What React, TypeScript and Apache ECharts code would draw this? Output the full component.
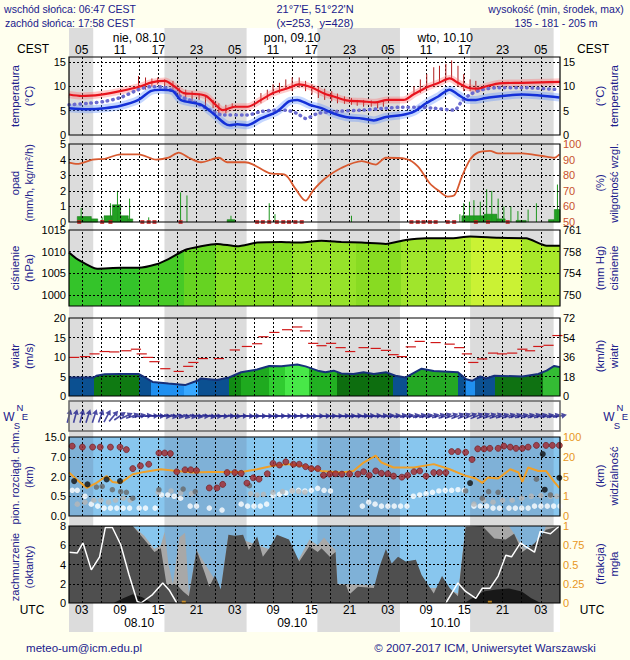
import React, { useEffect, useRef } from "react";
import * as echarts from "echarts";

type P = [number, number];

const FONT = '"Liberation Sans", Arial, Helvetica, sans-serif';
const BG = "#FFFFEE";
const NAVY = "#20208C";
const SKY = "#88C6EE";

// time axis: hours since 08.10 00:00 UTC
const T_MIN = 1;
const T_MAX = 78;
const NIGHTS: P[] = [[1, 4.8], [15.97, 28.85], [39.95, 52.9], [63.9, 77.0]];
const GRID_HOURS = [3, 6, 9, 12, 15, 18, 21, 24, 27, 30, 33, 36, 39, 42, 45, 48, 51, 54, 57, 60, 63, 66, 69, 72, 75];
const LABEL_HOURS = [3, 9, 15, 21, 27, 33, 39, 45, 51, 57, 63, 69, 75];
const DAY_HOURS = [12, 36, 60];
const DAY_NAMES = ["nie, 08.10", "pon, 09.10", "wto, 10.10"];
const DATE_LABELS = ["08.10", "09.10", "10.10"];

// temperature (°C)
const TEMP: P[] = [[1, 8.3], [3, 8.0], [6, 8.3], [9, 9.0], [12, 9.9], [14, 10.8], [16, 11.1], [17.5, 10.0], [19, 8.6], [21, 8.4], [22.5, 8.0], [24, 6.2], [25.1, 5.1], [27, 5.8], [29, 5.8], [31, 7.1], [33, 8.6], [35.5, 9.7], [37, 10.4], [39, 9.8], [41, 8.5], [42.5, 7.9], [44.5, 7.1], [47, 6.9], [49, 6.7], [51, 7.2], [53.5, 7.2], [55, 8.3], [57, 9.7], [59, 10.7], [60.7, 11.6], [62, 10.7], [63.6, 9.7], [65, 9.5], [66.5, 10.0], [68.5, 10.6], [72, 10.7], [75, 10.8], [78, 10.9]];
const DEWPOINT: P[] = [[1, 5.5], [4, 5.3], [6.6, 5.5], [9.1, 6.0], [11.9, 7.2], [13.8, 9.0], [15.4, 9.3], [17.3, 9.0], [18.5, 7.2], [21.7, 6.2], [23.6, 4.4], [25.5, 2.3], [26.2, 2.0], [27.4, 2.2], [28.9, 2.0], [31.1, 3.4], [33.6, 4.8], [35.5, 6.9], [36.8, 7.2], [38.7, 6.2], [40.6, 5.5], [42.5, 4.4], [44.4, 3.7], [46.9, 3.4], [48.8, 3.0], [50.7, 3.7], [53.2, 4.1], [55.1, 4.8], [57.0, 6.5], [58.9, 7.9], [60.7, 9.3], [62.0, 8.3], [63.6, 7.2], [64.8, 7.2], [66.4, 7.6], [72.1, 8.3], [77.9, 7.7]];
const GROUND_TEMP: P[] = [[1, 6.2], [4, 6.5], [6.6, 6.9], [9.1, 7.7], [11.9, 9.3], [13.8, 9.9], [15.4, 9.9], [17.3, 9.0], [18.5, 7.9], [20.4, 6.9], [23.6, 4.8], [25.1, 4.1], [28.9, 4.1], [31.1, 4.8], [33.6, 5.1], [34.9, 5.1], [36.8, 4.4], [38.1, 3.4], [40, 4.4], [42.5, 4.8], [46.9, 5.1], [50.7, 5.5], [53.2, 5.7], [55.7, 5.7], [58.2, 5.5], [61.4, 5.1], [62.6, 6.9], [63.9, 8.3], [65.8, 9.3], [68.3, 9.7], [72.1, 9.7], [77.9, 9.3]];
const TEMP_RANGE: [number, number, number][] = [[11.9, 9.7, 12.1], [13.0, 9.3, 11.8], [14.0, 9.9, 11.6], [14.9, 10.4, 11.8], [16.0, 9.7, 11.4], [17.3, 9.0, 11.1], [18.3, 7.2, 9.7], [19.3, 7.2, 9.3], [20.3, 6.9, 9.0], [21.4, 7.2, 8.6], [22.4, 5.8, 7.9], [23.6, 5.5, 7.2], [24.5, 4.1, 6.5], [25.6, 4.4, 6.2], [26.6, 5.5, 6.5], [31.1, 6.5, 8.6], [32.1, 7.2, 9.3], [33.0, 8.3, 10.4], [34.0, 8.6, 10.7], [35.0, 9.3, 11.4], [36.0, 9.0, 11.8], [37.1, 9.7, 11.8], [38.1, 9.0, 11.1], [39.1, 8.3, 10.4], [40.1, 7.6, 9.9], [41.1, 7.2, 9.5], [42.2, 6.9, 9.0], [43.1, 6.5, 8.5], [44.2, 6.4, 7.9], [45.3, 6.2, 7.6], [46.2, 6.0, 7.2], [47.2, 5.8, 7.2], [48.4, 5.8, 7.1], [49.4, 5.5, 6.9], [50.3, 5.8, 7.2], [55.1, 8.3, 10.0], [56.1, 8.6, 11.4], [57.1, 9.7, 12.5], [58.2, 10.4, 13.9], [59.1, 10.7, 14.2], [60.1, 11.1, 14.6], [61.0, 11.4, 15.3], [62.0, 10.0, 14.2], [62.9, 9.0, 12.5], [63.9, 9.0, 11.4], [64.8, 9.0, 11.1]];

// precipitation (mm/h) and relative humidity (%)
const PRECIP_BARS: [number, number, number][] = [[2.3, 4.5, 0.35], [4.5, 5.5, 0.2], [6.5, 7.8, 0.4], [7.8, 9.1, 1.1], [9.1, 10.3, 0.4], [10.3, 11, 0.2], [25.8, 27, 0.15], [62.6, 66.1, 0.4], [66.1, 68.1, 0.5], [68.1, 69.4, 0.2], [71.1, 72.7, 0.1], [76.2, 77.1, 0.15], [77.1, 78, 0.8]];
const PRECIP_MAX: P[] = [[2.9, 0.9], [6.2, 0.3], [7.5, 1.2], [8.6, 2.0], [10.5, 1.5], [13.5, 0.3], [18.5, 1.9], [19.5, 1.7], [26.4, 0.4], [32.4, 1.2], [33.3, 0.5], [45.3, 0.4], [62.3, 0.5], [62.9, 1.2], [63.8, 1.3], [64.5, 1.4], [65.5, 1.3], [66.5, 2.1], [67.3, 2.0], [68.3, 1.5], [69.2, 1.0], [70.3, 1.0], [71.4, 0.7], [73.0, 0.8], [74.3, 1.2], [77.6, 2.4]];
const SNOW_MARKS = [2.6, 6.2, 7.5, 12.5, 13.5, 14.4, 18.5, 30.5, 31.4, 32.4, 33.6, 34.6, 35.5, 36.5, 37.5, 54.7, 55.7, 56.6, 57.6, 58.5, 60.4, 61.4, 64.8, 66.7, 69.8];
const HUMIDITY: P[] = [[1, 88], [2.3, 87.2], [4.7, 90], [6.6, 90.5], [9.1, 93.4], [11.9, 93.4], [14.7, 90], [16.6, 91.2], [18.2, 94.5], [19.8, 91.2], [21.7, 88.3], [24.5, 91.2], [25.8, 88.3], [28.6, 88.3], [29.9, 86.8], [32.4, 81.3], [34.9, 80.2], [36.5, 71.4], [38.1, 63.7], [39.3, 70.3], [41.2, 78], [43.7, 84.6], [46.9, 89], [49.1, 86.8], [50.7, 91.2], [53.8, 90.5], [55.7, 85.7], [57.6, 74.7], [58.9, 70.3], [60.4, 66.3], [61.4, 67], [62.6, 79], [63.9, 90], [65.1, 94.5], [67, 95.6], [68.3, 94], [72.1, 94], [75.2, 92.3], [77.1, 91.2], [77.9, 93.4]];

// pressure (hPa)
const PRESSURE: P[] = [[1, 1009.8], [2.3, 1008.3], [5.4, 1006.1], [9.1, 1006.3], [11.9, 1006.3], [14.7, 1007.1], [16.6, 1008.3], [19.2, 1010.4], [21.7, 1011.25], [24.2, 1011.8], [27.4, 1011.25], [30.5, 1012.1], [34.3, 1012.25], [36.8, 1012.1], [40.6, 1012.5], [43.7, 1012.25], [46.9, 1012.1], [50.7, 1011.8], [53.8, 1012.7], [57, 1013.1], [60.7, 1013.1], [63.9, 1013.5], [68.3, 1013.2], [72.7, 1013.1], [75.9, 1011.4], [78, 1011.4]];
const PRESSURE_COLORS: [number, number, string][] = [[1, 12, "#34C42A"], [12, 19, "#46CA26"], [19, 24, "#66D322"], [24, 36, "#84DC22"], [36, 46, "#96E22A"], [46, 53, "#88DB22"], [53, 60, "#A0E52C"], [60, 64, "#B2EC30"], [64, 72, "#CAF234"], [72, 78, "#A8E82A"]];

// wind (m/s)
const WIND: P[] = [[1, 4.75], [2.3, 4.75], [4.9, 4.75], [5.3, 5.2], [6.6, 5.6], [9.1, 5.65], [11.9, 5.65], [12.9, 4.75], [14.1, 3.6], [16.6, 3.2], [19.2, 2.8], [21.1, 3.9], [21.7, 4.5], [24.2, 4.1], [26.1, 4.75], [28, 6.1], [30.5, 6.8], [32.4, 7.7], [34.3, 7.6], [36.8, 8.1], [38.1, 7.6], [40, 6.5], [41.2, 6.1], [42.5, 6.5], [43.7, 5.8], [45.6, 5.65], [47.2, 6.1], [48.8, 5.65], [50.7, 6.1], [52.2, 5.2], [53.8, 4.75], [56.3, 7.0], [58.2, 6.4], [62, 6.1], [63.3, 4.3], [64.2, 3.9], [65.5, 5.0], [66.4, 4.5], [67.7, 5.2], [72.1, 5.0], [74.6, 5.65], [75.9, 6.5], [77.1, 7.7], [78, 7.4]];
const GUSTS: P[] = [[1.8, 9.9], [3.5, 10.1], [5.0, 10.8], [6.6, 11.4], [8.1, 11.3], [10.0, 11.6], [11.5, 12.0], [12.4, 10.8], [13.4, 9.9], [14.4, 8.8], [16.1, 7.0], [18.2, 6.3], [19.7, 7.6], [20.5, 8.6], [22.0, 9.6], [24.5, 9.6], [27.0, 11.8], [28.9, 12.7], [30.5, 13.4], [31.5, 15.2], [33.2, 16.3], [35.2, 17.0], [36.8, 17.7], [38.0, 16.7], [39.3, 13.5], [40.6, 12.9], [42.1, 13.5], [43.6, 12.4], [45.1, 11.4], [47.2, 12.4], [49.1, 12.2], [50.7, 11.7], [51.9, 10.6], [53.2, 10.1], [54.6, 12.6], [56.0, 14.0], [58.5, 13.7], [60.7, 13.3], [62.2, 12.4], [63.4, 10.8], [64.4, 8.6], [65.8, 9.5], [67.5, 11.0], [68.9, 10.8], [70.5, 11.0], [72.1, 12.0], [73.3, 11.6], [74.6, 12.7], [76.2, 13.0], [77.6, 15.5]];
const WIND_COLORS: [number, number, string][] = [[1, 4.86, "#0B5091"], [4.86, 11.9, "#0F7A12"], [11.9, 13.8, "#0B5091"], [13.8, 19.0, "#2090F0"], [19.0, 21.2, "#38A8FF"], [21.2, 26.1, "#0B5091"], [26.1, 28, "#128C14"], [28, 32.4, "#1FAA1F"], [32.4, 34.9, "#30CC30"], [34.9, 38.6, "#48E848"], [38.6, 43, "#22B022"], [43, 51.8, "#0D6E0F"], [51.8, 54, "#0B5091"], [54, 62, "#24A824"], [62, 63.3, "#0B5091"], [63.3, 64.6, "#2090F0"], [64.6, 67.8, "#0B5091"], [67.8, 75.3, "#0F7212"], [75.3, 78, "#34BC34"]];
// wind direction arrows, hourly from t=1 (degrees clockwise from "pointing up")
const WIND_DIR = [15, 15, 15, 18, 18, 20, 28, 40, 55, 65, 72, 78, 82, 88, 92, 95, 100, 100, 105, 100, 100, 95, 100, 95, 95, 92, 95, 90, 92, 90, 90, 90, 88, 88, 90, 90, 90, 92, 92, 90, 88, 88, 88, 86, 86, 85, 85, 85, 84, 84, 82, 82, 80, 80, 80, 78, 78, 75, 75, 72, 72, 70, 70, 68, 68, 70, 72, 72, 74, 74, 75, 75, 76, 76, 76, 78, 78, 80];

// cloud layers (km) and visibility (km)
const CLOUD_H_TICKS = [0, 0.5, 2, 7, 15];
const CLOUD_H_LABELS = ["0.0", "0.5", "2.0", "7.0", "15.0"];
const VIS_TICKS = [0, 1, 5, 20, 100];
const HIGH_CLOUD: P[] = [[1.5, 11.3], [3.1, 10.9], [4.7, 10.9], [5.9, 10.9], [7.5, 10.9], [9.0, 10.9], [10.0, 9.9], [11.0, 4.0], [12.2, 4.7], [13.5, 5.1], [15.1, 8.5], [16.0, 8.5], [16.9, 8.3], [17.9, 3.2], [19.2, 3.7], [20.1, 3.7], [21.0, 3.5], [23.0, 1.13], [24.2, 1.13], [25.1, 1.4], [25.8, 3.0], [27.0, 3.0], [28.0, 2.8], [28.9, 1.5], [29.9, 1.9], [30.8, 1.8], [32.1, 2.7], [33.0, 5.3], [34.0, 4.9], [35.0, 5.7], [36.2, 5.1], [37.1, 5.1], [38.1, 4.5], [39.0, 4.0], [40.0, 4.0], [40.9, 2.3], [41.9, 2.6], [42.8, 2.7], [43.8, 2.6], [45.0, 2.6], [46.3, 2.6], [47.2, 3.2], [48.1, 2.3], [49.1, 3.4], [50.0, 2.8], [51.0, 2.7], [51.9, 2.1], [53.2, 1.95], [54.1, 2.3], [55.1, 3.2], [56.0, 3.4], [57.0, 2.1], [58.2, 3.0], [59.1, 3.0], [60.1, 3.0], [61.0, 9.1], [62.0, 9.1], [63.2, 8.8], [64.2, 6.3], [65.1, 10.2], [66.1, 10.2], [67.0, 10.4], [68.3, 10.4], [69.2, 11.3], [70.2, 10.9], [71.1, 10.4], [72.1, 10.4], [73.0, 10.9], [74.3, 11.6], [75.8, 11.6], [76.8, 11.6], [77.9, 11.6]];
const BLACK_CLOUD: P[] = [[1.8, 1.65], [3.9, 1.4], [6.9, 1.78], [9.0, 1.65], [63.9, 1.5], [75.3, 8.1], [75.6, 1.0], [77.9, 1.9]];
const DARK_CLOUD: P[] = [[5.3, 1.2], [6.2, 1.25], [7.8, 1.0], [9.1, 0.85], [10.0, 0.8], [11.0, 0.45], [15.1, 1.0], [18.9, 1.05], [20.8, 0.85], [29.3, 1.3], [63.2, 0.9], [65.8, 0.45], [66.8, 0.85], [68.3, 0.8], [74.3, 1.8], [76.5, 0.6]];
const LIGHT_CLOUD: P[] = [[2.3, 0.3], [3.5, 0.35], [4.9, 0.4], [6.0, 0.4], [7.2, 0.35], [8.3, 0.4], [9.5, 0.45], [10.6, 0.4], [15.0, 0.8], [17.0, 0.9], [18.5, 0.75], [20.2, 0.7], [29.5, 0.7], [30.5, 0.6], [31.5, 0.65], [33.0, 0.8], [34.5, 0.85], [36, 0.9], [37, 0.85], [38, 0.8], [64.5, 0.3], [66, 0.4], [67.5, 0.35], [69, 0.4], [70.5, 0.4], [72, 0.45], [73.5, 0.5], [75, 0.55], [76.5, 0.5], [77.5, 0.5]];
const WHITE_CLOUD: P[] = [[1.5, 0.95], [2.3, 0.95], [3.5, 0.5], [4.5, 0.3], [5.5, 0.25], [6.5, 0.2], [7.5, 0.2], [8.5, 0.2], [9.5, 0.2], [10.5, 0.2], [12, 0.2], [13, 0.2], [14.5, 0.2], [15.5, 0.6], [16.5, 0.6], [17.5, 0.5], [18.5, 0.45], [20, 0.25], [21, 0.25], [23, 0.2], [25, 0.15], [28, 0.3], [29, 0.25], [30, 0.25], [31, 0.25], [32, 0.3], [33, 0.55], [34, 0.65], [35, 0.75], [36, 0.9], [37, 0.95], [38, 0.9], [39, 0.95], [40, 1.1], [41, 0.95], [42, 0.9], [47, 0.25], [48, 0.35], [49, 0.3], [50, 0.25], [51, 0.25], [52, 0.25], [53, 0.25], [54, 0.25], [55, 0.5], [56, 0.6], [57, 0.7], [58, 0.8], [59, 0.9], [60, 0.95], [61, 0.95], [62, 1.0], [63, 0.95], [64.5, 0.25], [65.5, 0.25], [66.5, 0.25], [67.5, 0.2], [68.5, 0.2], [70, 0.2], [71, 0.2], [72, 0.2], [73, 0.2], [74, 0.25], [75, 0.25], [76, 0.25], [77, 0.25], [78, 0.25]];
const VISIBILITY: P[] = [[1, 8], [2.2, 4.4], [3.8, 2.7], [5.3, 3.7], [6.9, 5.4], [7.8, 3.9], [9.1, 3.7], [11, 6.7], [12.8, 8.5], [15.4, 10.5], [17.9, 9.2], [20.4, 8], [23, 8.5], [25.5, 8.5], [28, 8.5], [30.5, 10.5], [33, 13.1], [35.5, 14.4], [38.1, 12.6], [40.6, 9.2], [43.7, 8], [45.6, 9.2], [47.2, 15.6], [49.1, 25], [50, 15.6], [51.9, 11.8], [55.1, 11.8], [58.2, 14.4], [60.7, 10.5], [63.2, 5.5], [64.8, 4.6], [65.8, 3.7], [66.7, 4.8], [68.3, 4.6], [70.2, 10.5], [71.5, 8], [72.1, 3.9], [73, 11.8], [74.6, 9.2], [75.8, 9.2], [77.1, 3.9], [77.9, 2.7]];

// cloud cover (octants) and fog fraction
const CLOUD_TOTAL: P[] = [[1, 8], [11, 8], [12.8, 6.6], [14.4, 5.3], [15.4, 5.7], [16.3, 1.9], [17.9, 1.9], [18.9, 1.2], [19.8, 0.7], [21, 5.5], [22.3, 3.1], [23, 1.7], [23.9, 2.9], [24.8, 1.4], [26, 7.1], [27, 7.0], [28.3, 7.1], [29.2, 5.5], [30.5, 6.9], [31.4, 4.8], [32.4, 5.7], [33.6, 7.1], [35.5, 6.6], [37.1, 4.3], [38.7, 5.9], [40, 5.3], [40.6, 5.7], [41.9, 4.8], [42.8, 5.3], [43.1, 1.9], [44.4, 1.9], [45, 0.9], [46.3, 1.7], [48.8, 1.55], [49.7, 3.8], [50.7, 5.6], [51.6, 4.1], [52.6, 4.8], [53.8, 4.3], [55.4, 4.5], [56.3, 2.9], [58.2, 1.0], [59.5, 2.8], [60.7, 1.55], [62, 0.7], [63.2, 7.9], [65.8, 8], [67.7, 6.7], [69.5, 6.6], [70.8, 7.2], [72.1, 5.3], [74, 6.2], [75.8, 7.6], [78, 8]];
const CLOUD_MID: P[] = [[1, 8], [11, 8], [12.8, 7], [14.4, 5.6], [15.4, 6], [16, 7.4], [16.6, 4], [17.3, 2], [18.3, 6.8], [19.2, 7.3], [19.8, 1], [21, 5.5], [24.8, 1.4], [26, 7.1], [37, 4.5], [38.7, 6.6], [40, 6], [41, 6.8], [42, 6], [42.8, 5.5], [43.1, 2], [60, 1.5], [62, 1], [63.2, 8], [70, 8], [72, 6], [74, 5], [75.8, 8], [78, 8]];
const CLOUD_LOW: P[] = [[8, 0], [9.5, 0.5], [11, 0.9], [12.5, 0.6], [14, 0], [63, 0], [64.5, 0.6], [66, 1.2], [68, 1.4], [70, 1.5], [72, 1.2], [73.5, 0.5], [75, 0]];
const FOG_A: P[] = [[1, 0.66], [2.3, 0.65], [3.2, 0.78], [4.5, 0.43], [5.8, 0.6], [6.7, 0.98], [7.8, 0.98], [9.1, 0.76], [10.4, 0.37], [11.7, 0.02], [12.3, 0], [14.1, 0.11], [15.7, 0.26], [16.7, 0.17], [17.9, 0]];
const FOG_B: P[] = [[60.1, 0], [62, 0.26], [63.2, 0.15], [64.8, 0.06], [65.8, 0.19], [67, 0.19], [68.3, 0.35], [69.5, 0.62], [70.4, 0.6], [71.8, 0.78], [72.7, 0.73], [74, 0.66], [74.9, 0.93], [76.5, 0.9], [77.9, 1.0]];
const FOG_MARKS = [19, 67];

const PANELS = [
  { top: 57, height: 78 },
  { top: 144, height: 78 },
  { top: 230, height: 76 },
  { top: 318, height: 78 },
  { top: 401, height: 30 },
  { top: 437, height: 79 },
  { top: 526, height: 77 },
];

const pad = (n: number) => (n < 10 ? "0" + n : String(n));

function toIdx(v: number, ticks: number[]): number {
  for (let i = 0; i < ticks.length - 1; i++) {
    if (v <= ticks[i + 1]) return i + (v - ticks[i]) / (ticks[i + 1] - ticks[i]);
  }
  return ticks.length - 1;
}

function buildOption(): any {
  const grids: any[] = PANELS.map((p, i) => ({
    left: 69,
    width: 491,
    top: p.top,
    height: p.height,
    show: true,
    backgroundColor: "transparent",
    borderColor: i === 4 ? "#666" : "#000",
    borderWidth: i === 4 ? 1.5 : 1.2,
    z: 10,
  }));
  grids.push({ left: 69, width: 491, top: 28, height: 604, show: true, backgroundColor: "#FFFFFF", borderWidth: 0, z: 0 });

  const label = (extra: any = {}) => ({ fontSize: 11, lineHeight: 10, fontFamily: FONT, color: "#000", margin: 3, hideOverlap: false, ...extra });
  const xHidden = (g: number) => ({ type: "value", gridIndex: g, min: T_MIN, max: T_MAX, show: false });
  const xLabelAxis = (g: number, position: string, values: number[], fmt: (v: number) => string, offset: number, margin: number) => ({
    type: "value", gridIndex: g, min: T_MIN, max: T_MAX, position, offset, z: 12,
    axisLine: { show: false }, axisTick: { show: false }, splitLine: { show: false },
    axisLabel: { customValues: values, formatter: fmt, fontSize: 12, lineHeight: 11, fontFamily: FONT, color: "#000", margin },
  });
  const xAxis = [
    ...PANELS.map((_, i) => xHidden(i)),
    xHidden(7),
    xLabelAxis(0, "top", LABEL_HOURS, (v) => pad((v + 2) % 24), 0, 2),
    xLabelAxis(0, "top", DAY_HOURS, (v) => DAY_NAMES[DAY_HOURS.indexOf(v)], 12, 2),
    xLabelAxis(6, "bottom", LABEL_HOURS, (v) => pad(v % 24), 0, 1),
    xLabelAxis(6, "bottom", DAY_HOURS, (v) => DATE_LABELS[DAY_HOURS.indexOf(v)], 13, 1),
  ];

  const yA = (g: number, position: string, o: any) => ({
    type: "value", gridIndex: g, position, z: 12,
    axisLine: { show: false }, axisTick: { show: false }, splitLine: { show: false },
    ...o,
    axisLabel: label(o.axisLabel || {}),
  });
  const mmHg = (v: number) => String(Math.round(v * 0.750062));
  const ORANGE = "#E8961E";
  const plain = (v: number) => String(v);
  const yAxis = [
    yA(0, "left", { min: 0, max: 16, interval: 5, axisLabel: { showMaxLabel: false } }),
    yA(0, "right", { min: 0, max: 16, interval: 5, axisLabel: { showMaxLabel: false } }),
    yA(1, "left", { min: 0, max: 5, interval: 1 }),
    yA(1, "right", { min: 50, max: 100, interval: 10, axisLabel: { color: "#C8502D" } }),
    yA(2, "left", { min: 997.5, max: 1015, axisLabel: { customValues: [1000, 1005, 1010, 1015], formatter: plain } }),
    yA(2, "right", { min: 997.5, max: 1015, axisLabel: { customValues: [1000, 1005, 1010, 1015], formatter: mmHg } }),
    yA(3, "left", { min: 0, max: 20, interval: 5 }),
    yA(3, "right", { min: 0, max: 72, interval: 18 }),
    { type: "value", gridIndex: 4, min: -1, max: 1, show: false },
    yA(5, "left", { min: 0, max: 4, interval: 1, axisLabel: { formatter: (v: number) => CLOUD_H_LABELS[Math.round(v)] } }),
    yA(5, "right", { min: 0, max: 4, interval: 1, axisLabel: { color: ORANGE, formatter: (v: number) => String(VIS_TICKS[Math.round(v)]) } }),
    yA(6, "left", { min: 0, max: 8, interval: 2 }),
    yA(6, "right", { min: 0, max: 1, interval: 0.25, axisLabel: { color: ORANGE, formatter: (v: number) => (v === 0 ? "0" : v === 1 ? "1" : String(v)) } }),
    { type: "value", gridIndex: 7, min: 0, max: 1, show: false },
  ];

  const series: any[] = [];
  const add = (s: any) => {
    series.push({ animation: false, emphasis: { disabled: true }, silent: true, ...s });
    return series.length - 1;
  };

  // night bands behind everything
  add({
    type: "line", xAxisIndex: 7, yAxisIndex: 13, data: [[1, 0]], symbol: "none", lineStyle: { opacity: 0 }, z: 1,
    markArea: { silent: true, z: 1, label: { show: false }, itemStyle: { color: "#DCDCDC" }, data: NIGHTS.map(([a, b]) => [{ xAxis: a }, { xAxis: b }]) },
  });

  const gridLines = (g: number, yIdx: number, yVals: number[]) =>
    add({
      type: "line", xAxisIndex: g, yAxisIndex: yIdx, data: [[1, yVals.length ? yVals[0] : 0]], symbol: "none", lineStyle: { opacity: 0 }, z: 4,
      markLine: {
        silent: true, z: 4, symbol: ["none", "none"], label: { show: false }, emphasis: { disabled: true },
        lineStyle: { color: "#000", type: [2, 2], width: 1 },
        data: [...GRID_HOURS.map((h) => ({ xAxis: h })), ...yVals.map((v) => ({ yAxis: v }))],
      },
    });

  const skyBg = (g: number, yIdx: number) =>
    add({
      type: "line", xAxisIndex: g, yAxisIndex: yIdx, data: [[1, 0]], symbol: "none", lineStyle: { opacity: 0 }, z: 2,
      markArea: {
        silent: true, z: 2, label: { show: false },
        data: [
          [{ xAxis: T_MIN, itemStyle: { color: SKY } }, { xAxis: T_MAX }],
          ...NIGHTS.map(([a, b]) => [{ xAxis: a, itemStyle: { color: "rgba(95,95,125,0.2)" } }, { xAxis: b }]),
        ],
      },
    });

  // ---- temperature
  gridLines(0, 0, [5, 10, 15]);
  add({
    type: "custom", xAxisIndex: 0, yAxisIndex: 0, z: 5, data: TEMP_RANGE,
    renderItem: (_p: any, api: any) => {
      const a = api.coord([api.value(0), api.value(1)]);
      const b = api.coord([api.value(0), api.value(2)]);
      return { type: "line", shape: { x1: a[0], y1: a[1], x2: b[0], y2: b[1] }, style: { stroke: "#B01E1E", lineWidth: 1 } };
    },
  });
  add({ type: "line", xAxisIndex: 0, yAxisIndex: 0, data: DEWPOINT, symbol: "none", smooth: 0.3, z: 5, lineStyle: { color: "rgba(90,140,255,0.35)", width: 8 } });
  add({ type: "line", xAxisIndex: 0, yAxisIndex: 0, data: TEMP, symbol: "none", smooth: 0.3, z: 5, lineStyle: { color: "rgba(255,110,110,0.35)", width: 7 } });
  add({ type: "line", xAxisIndex: 0, yAxisIndex: 0, data: GROUND_TEMP, symbol: "none", smooth: 0.3, z: 6, lineStyle: { color: "#6B6BD0", width: 3.5, type: [0.5, 5], cap: "round" } });
  add({ type: "line", xAxisIndex: 0, yAxisIndex: 0, data: DEWPOINT, symbol: "none", smooth: 0.3, z: 6, lineStyle: { color: "#1430D8", width: 2.5 } });
  add({ type: "line", xAxisIndex: 0, yAxisIndex: 0, data: TEMP, symbol: "none", smooth: 0.3, z: 6, lineStyle: { color: "#E8141E", width: 2.2 } });

  // ---- precipitation / humidity
  add({
    type: "custom", xAxisIndex: 1, yAxisIndex: 2, z: 3, data: PRECIP_BARS,
    renderItem: (_p: any, api: any) => {
      const a = api.coord([api.value(0), api.value(2)]);
      const b = api.coord([api.value(1), 0]);
      return { type: "rect", shape: { x: a[0], y: a[1], width: b[0] - a[0], height: b[1] - a[1] }, style: { fill: "#22A022", stroke: "#0E6E0E", lineWidth: 0.5 } };
    },
  });
  add({
    type: "custom", xAxisIndex: 1, yAxisIndex: 2, z: 3, data: PRECIP_MAX,
    renderItem: (_p: any, api: any) => {
      const a = api.coord([api.value(0), 0]);
      const b = api.coord([api.value(0), api.value(1)]);
      return { type: "line", shape: { x1: a[0], y1: a[1], x2: b[0], y2: b[1] }, style: { stroke: "#1E961E", lineWidth: 1 } };
    },
  });
  gridLines(1, 2, [1, 2, 3, 4]);
  add({ type: "scatter", xAxisIndex: 1, yAxisIndex: 2, z: 6, data: SNOW_MARKS.map((t) => [t, 0]), symbol: "rect", symbolSize: [4, 4], itemStyle: { color: "#C81E1E" } });
  add({ type: "line", xAxisIndex: 1, yAxisIndex: 3, data: HUMIDITY, symbol: "none", smooth: 0.3, z: 5, lineStyle: { color: "#D85A30", width: 1.8 } });

  // ---- pressure
  const pressFill = add({ type: "line", xAxisIndex: 2, yAxisIndex: 4, data: PRESSURE, symbol: "none", smooth: 0.2, z: 3, lineStyle: { width: 0 }, areaStyle: { opacity: 1, origin: "start" } });
  gridLines(2, 4, [1000, 1005, 1010]);
  add({ type: "line", xAxisIndex: 2, yAxisIndex: 4, data: PRESSURE, symbol: "none", smooth: 0.2, z: 5, lineStyle: { color: "#000", width: 2 } });

  // ---- wind
  const windFill = add({ type: "line", xAxisIndex: 3, yAxisIndex: 6, data: WIND, symbol: "none", z: 3, lineStyle: { width: 0 }, areaStyle: { opacity: 1, origin: "start" } });
  gridLines(3, 6, [5, 10, 15]);
  add({ type: "line", xAxisIndex: 3, yAxisIndex: 6, data: WIND, symbol: "none", z: 5, lineStyle: { color: "#16307A", width: 2 } });
  add({
    type: "custom", xAxisIndex: 3, yAxisIndex: 6, z: 5, data: GUSTS,
    renderItem: (_p: any, api: any) => {
      const a = api.coord([api.value(0) - 0.8, api.value(1)]);
      const b = api.coord([api.value(0) + 0.8, api.value(1)]);
      return { type: "line", shape: { x1: a[0], y1: a[1], x2: b[0], y2: b[1] }, style: { stroke: "#D01818", lineWidth: 1.2 } };
    },
  });

  // ---- wind direction
  gridLines(4, 8, []);
  add({
    type: "scatter", xAxisIndex: 4, yAxisIndex: 8, z: 6,
    symbol: "path://M-0.8,10 L-0.8,-2.5 L-3,-2.5 L0,-10 L3,-2.5 L0.8,-2.5 L0.8,10 Z",
    symbolSize: [6, 14],
    itemStyle: { color: "#1E1E8C" },
    data: WIND_DIR.map((a, i) => ({ value: [i + 1, 0], symbolRotate: -a })),
  });

  // ---- cloud heights / visibility
  skyBg(5, 9);
  gridLines(5, 9, [1, 2, 3]);
  const dots = (d: P[], color: string, size: number, z: number, border = "rgba(0,0,0,0)") =>
    add({ type: "scatter", xAxisIndex: 5, yAxisIndex: 9, z, symbolSize: size, itemStyle: { color, borderColor: border, borderWidth: 0.8 }, data: d.map(([t, v]) => [t, toIdx(v, CLOUD_H_TICKS)]) });
  dots(WHITE_CLOUD, "#FFFFFF", 5.5, 5);
  dots(LIGHT_CLOUD, "#B8B8B8", 5.5, 5.1);
  dots(DARK_CLOUD, "#686868", 5.5, 5.2);
  add({ type: "line", xAxisIndex: 5, yAxisIndex: 10, z: 5.25, symbol: "none", data: VISIBILITY.map(([t, v]) => [t, toIdx(v, VIS_TICKS)]), lineStyle: { color: "#F0A028", width: 2 } });
  dots(HIGH_CLOUD, "#A5282D", 6, 5.3, "#6E1616");
  dots(BLACK_CLOUD, "#101010", 6, 5.4);

  // ---- cloud cover / fog
  skyBg(6, 11);
  add({ type: "line", xAxisIndex: 6, yAxisIndex: 11, data: CLOUD_MID, symbol: "none", z: 3, lineStyle: { width: 0 }, areaStyle: { color: "#A8A8A8", opacity: 1, origin: "start" } });
  add({ type: "line", xAxisIndex: 6, yAxisIndex: 11, data: CLOUD_TOTAL, symbol: "none", z: 3.5, lineStyle: { width: 0 }, areaStyle: { color: "#4F4F4F", opacity: 1, origin: "start" } });
  add({ type: "line", xAxisIndex: 6, yAxisIndex: 11, data: CLOUD_LOW, symbol: "none", z: 3.7, lineStyle: { width: 0 }, areaStyle: { color: "#181818", opacity: 1, origin: "start" } });
  gridLines(6, 11, [2, 4, 6]);
  add({ type: "line", xAxisIndex: 6, yAxisIndex: 12, data: FOG_A, symbol: "none", z: 5, lineStyle: { color: "#FFFFFF", width: 1.5 } });
  add({ type: "line", xAxisIndex: 6, yAxisIndex: 12, data: FOG_B, symbol: "none", z: 5, lineStyle: { color: "#FFFFFF", width: 1.5 } });
  add({ type: "scatter", xAxisIndex: 6, yAxisIndex: 12, z: 6, data: FOG_MARKS.map((t) => [t, 0.01]), symbol: "rect", symbolSize: [4, 3], itemStyle: { color: "#E8A020" } });

  const visualMap = [
    { type: "piecewise", show: false, seriesIndex: pressFill, dimension: 0, pieces: PRESSURE_COLORS.map(([a, b, c]) => ({ gte: a, lt: b === T_MAX ? b + 1 : b, color: c })) },
    { type: "piecewise", show: false, seriesIndex: windFill, dimension: 0, pieces: WIND_COLORS.map(([a, b, c]) => ({ gte: a, lt: b === T_MAX ? b + 1 : b, color: c })) },
  ];

  // ---- texts
  const txt = (text: string, x: number, y: number, o: any = {}) => ({
    type: "text", x, y, z: 30, silent: true, rotation: o.rot || 0,
    style: {
      text, fill: o.fill || NAVY, font: `${o.size || 11.5}px ${FONT}`,
      align: o.align || "center", textAlign: o.align || "center",
      verticalAlign: "middle", textVerticalAlign: "middle", lineHeight: o.lh || 14,
    },
  });
  const R = Math.PI / 2;
  const compass = (dx: number) => [
    txt("W", 9 + dx, 417, { size: 12 }),
    txt("N", 20 + dx, 407, { size: 9.5 }),
    txt("S", 17 + dx, 425, { size: 9.5 }),
    txt("E", 25 + dx, 416, { size: 9.5 }),
  ];
  const graphic = [
    txt("wschód słońca: 06:47 CEST", 70, 9, { size: 10.5 }),
    txt("zachód słońca: 17:58 CEST", 70, 23, { size: 10.5 }),
    txt("21°7'E, 51°22'N", 315, 9, { size: 11 }),
    txt("(x=253,  y=428)", 315, 23, { size: 11 }),
    txt("wysokość (min, środek, max)", 556, 9, { size: 10.5 }),
    txt("135 - 181 - 205 m", 556, 23, { size: 10.5 }),
    txt("CEST", 33, 49, { fill: "#000", size: 12 }),
    txt("CEST", 593, 49, { fill: "#000", size: 12 }),
    txt("UTC", 32, 610, { fill: "#000", size: 12 }),
    txt("UTC", 592, 610, { fill: "#000", size: 12 }),
    txt("temperatura\n(°C)", 22, 96, { rot: R }),
    txt("opad\n(mm/h, kg/m²/h)", 22, 183, { rot: R, size: 11 }),
    txt("ciśnienie\n(hPa)", 22, 268, { rot: R }),
    txt("wiatr\n(m/s)", 22, 356, { rot: R }),
    txt("pion. rozciągł. chm.\n(km)", 22, 477, { rot: R, size: 11 }),
    txt("zachmurzenie\n(oktanty)", 22, 567, { rot: R, size: 11 }),
    txt("(°C)\ntemperatura", 607, 96, { rot: R }),
    txt("(%)\nwilgotność wzgl.", 607, 183, { rot: R, size: 11 }),
    txt("(mm Hg)\nciśnienie", 607, 268, { rot: R }),
    txt("(km/h)\nwiatr", 607, 356, { rot: R }),
    txt("(km)\nwidzialność", 607, 476, { rot: R }),
    txt("(frakcja)\nmgła", 607, 564, { rot: R }),
    ...compass(0),
    ...compass(600),
    txt("meteo-um@icm.edu.pl", 84, 648),
    txt("© 2007-2017 ICM, Uniwersytet Warszawski", 485, 648),
  ];

  return {
    animation: false,
    backgroundColor: BG,
    textStyle: { fontFamily: FONT },
    grid: grids,
    xAxis,
    yAxis,
    visualMap,
    series,
    graphic,
  };
}

export default function App() {
  const ref = useRef<HTMLDivElement>(null);
  useEffect(() => {
    document.body.style.margin = "0";
    document.body.style.background = BG;
    const chart = echarts.init(ref.current!, null, { renderer: "svg" });
    chart.setOption(buildOption());
    return () => chart.dispose();
  }, []);
  return <div ref={ref} style={{ position: "fixed", left: 0, top: 0, width: 630, height: 660, background: BG }} />;
}
